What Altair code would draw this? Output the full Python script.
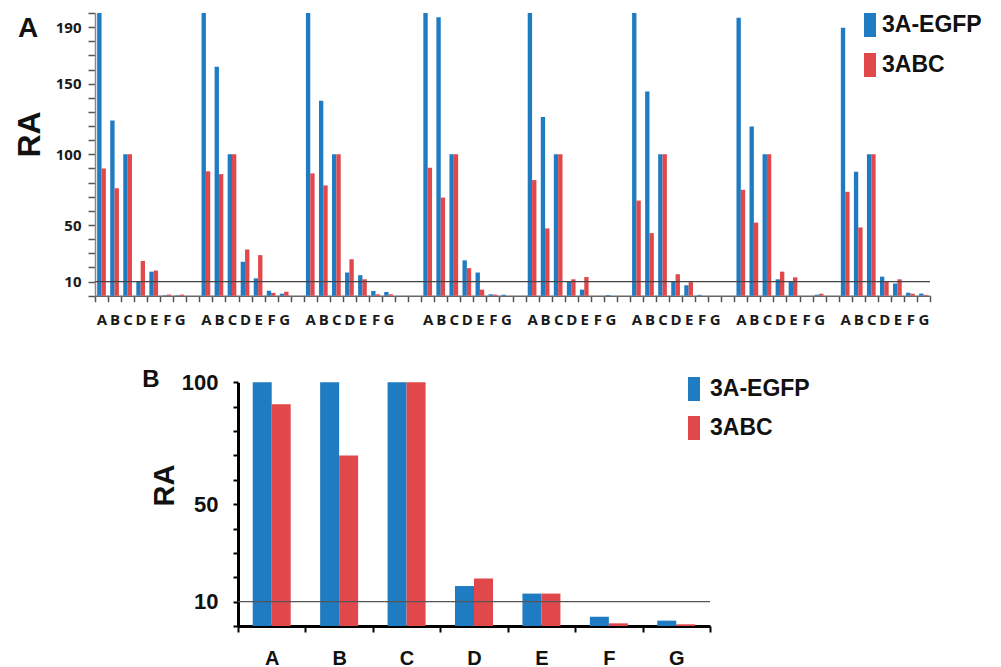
import altair as alt
import pandas as pd

# ---------------- data ----------------
categories = ["A", "B", "C", "D", "E", "F", "G"]
series = ["3A-EGFP", "3ABC"]
group_ids = ["1", "2", "3", "4", "5", "6", "7", "8"]
gaps_after = [1, 1, 2, 1, 1, 1, 1, 0]

a_egfp = [
    [200, 124, 100, 10, 17, 0.3, 0.3],
    [200, 162, 100, 24, 12.3, 3.5, 1.4],
    [200, 138, 100, 16.4, 14.5, 3.3, 2.6],
    [200, 197, 100, 25, 16.4, 1, 0.7],
    [200, 126.5, 100, 10, 4.3, 0, 0.5],
    [200, 144.5, 100, 10, 7.4, 0.6, 0],
    [196.7, 119.7, 100, 11.6, 9.8, 0, 0.7],
    [189.6, 87.7, 100, 13.5, 8.6, 2.1, 1.5],
]
a_3abc = [
    [90, 76, 100, 24.6, 17.8, 0.8, 0.8],
    [88, 86, 100, 32.7, 28.7, 2, 2.8],
    [86.5, 78, 100, 25.8, 11.6, 1, 1],
    [90.5, 69.4, 100, 19.5, 4.3, 0.8, 0],
    [81.8, 47.6, 100, 11.6, 13.2, 0, 0],
    [67.3, 44.3, 100, 15.2, 9.6, 0, 0],
    [74.9, 51.7, 100, 17, 13, 0, 1.4],
    [73.5, 48.3, 100, 9.8, 11.6, 1.4, 0.6],
]
b_egfp = [100, 100, 100, 16.4, 13.3, 3.8, 2.2]
b_3abc = [91, 70, 100, 19.5, 13.3, 1.1, 0.7]

a_y_ticks = list(range(0, 201, 10))
b_y_ticks = list(range(0, 101, 10))
ref_value = [10]
panel_labels = ["A", "B"]

# ---------------- tables ----------------
slots = []
rows_a = []
for gi, g in enumerate(group_ids):
    for ci, c in enumerate(categories):
        sid = g + c
        slots.append(sid)
        rows_a.append({"slot": sid, "series": series[0], "value": a_egfp[gi][ci]})
        rows_a.append({"slot": sid, "series": series[1], "value": a_3abc[gi][ci]})
    for k in range(gaps_after[gi]):
        slots.append("gap" + g + "_" + str(k))
df_a = pd.DataFrame(rows_a)

rows_b = []
for ci, c in enumerate(categories):
    rows_b.append({"cat": c, "series": series[0], "value": b_egfp[ci]})
    rows_b.append({"cat": c, "series": series[1], "value": b_3abc[ci]})
df_b = pd.DataFrame(rows_b)

df_ref = pd.DataFrame({"value": ref_value})

# ---------------- layout / style ----------------
W, H = 835, 613
A_BASE = 282.7
B_LEFT, B_RIGHT = 143, 615
B_TOP = 369.3
BAR_A, BAR_B = 4.35, 19
BLUE = "#1f7bc2"
RED = "#e0484b"
SANS = "Liberation Sans"
rect_path = "M-0.5,-1H0.5V1H-0.5Z"

scale_xa = alt.Scale(domain=slots, range=[0, W], paddingInner=0, paddingOuter=0)
scale_xb = alt.Scale(domain=categories, range=[B_LEFT, B_RIGHT], paddingInner=0, paddingOuter=0)
scale_ya = alt.Scale(domain=[0, 200], range=[A_BASE, 0], nice=False, zero=True)
scale_yb = alt.Scale(domain=[0, 100], range=[H, B_TOP], nice=False, zero=True)
scale_c = alt.Scale(domain=series, range=[BLUE, RED])

# ---------------- panel A ----------------
axis_ya = alt.Axis(
    orient="left", values=a_y_ticks,
    labelExpr="(datum.value == 10 || datum.value == 50 || datum.value == 100 || datum.value == 150 || datum.value == 190) ? datum.label : ''",
    grid=False, domainColor="#8a8a8a", domainWidth=1.5,
    tickColor="#555", tickWidth=1.5, tickSize=7,
    labelFont="Open Sans", labelFontSize=15, labelFontWeight="bold",
    labelColor="#1a1a1a", labelPadding=7,
    title="RA", titleFont=SANS, titleFontSize=32, titleFontWeight="bold",
    titleColor="#111", titleAngle=270, titleX=-66, titleY=121,
    titleAlign="center", titleBaseline="middle",
)
axis_xa = alt.Axis(
    orient="bottom", offset=-(H - A_BASE), tickBand="extent",
    labelExpr="(isString(datum.value) && indexof(datum.value, 'gap') != 0) ? slice(datum.value, -1) : ''",
    labelAngle=0, labelOverlap=False,
    domainColor="#666", domainWidth=1.5, tickColor="#555", tickWidth=1.5, tickSize=6,
    labelFont="Open Sans", labelFontSize=15, labelFontWeight="bold",
    labelColor="#1a1a1a", labelPadding=11, title=None,
)
legend_a = alt.Legend(
    orient="none", legendX=763, legendY=0, title=None, padding=0,
    symbolType=rect_path, symbolSize=576, symbolStrokeWidth=0, symbolOpacity=1,
    labelFont=SANS, labelFontSize=23, labelFontWeight="bold", labelColor="#111",
    labelOffset=0, rowPadding=16,
    labelExpr="datum.label == '3ABC' ? '\u2009\u2009' + datum.label : datum.label",
)

base_a = alt.Chart(df_a)
blue_a = base_a.transform_filter(alt.datum.series == series[0]).mark_bar(
    width=BAR_A, xOffset=-BAR_A / 2
).encode(
    x=alt.X("slot:N", scale=scale_xa, axis=axis_xa),
    y=alt.Y("value:Q", scale=scale_ya, axis=axis_ya),
    color=alt.Color("series:N", scale=scale_c, legend=legend_a),
)
red_a = base_a.transform_filter(alt.datum.series == series[1]).mark_bar(
    width=BAR_A, xOffset=BAR_A / 2
).encode(
    x=alt.X("slot:N", scale=scale_xa, axis=None),
    y=alt.Y("value:Q", scale=scale_ya, axis=None),
    color=alt.Color("series:N", scale=scale_c, legend=None),
)
rule_a = alt.Chart(df_ref).mark_rule(color="#444", strokeWidth=1.3).encode(
    y=alt.Y("value:Q", scale=scale_ya, axis=None), x=alt.value(0), x2=alt.value(W)
)

# ---------------- panel B ----------------
axis_yb = alt.Axis(
    orient="left", offset=-B_LEFT, values=b_y_ticks,
    labelExpr="(datum.value == 10 || datum.value == 50 || datum.value == 100) ? datum.label : ''",
    grid=False, domainColor="#000", domainWidth=3,
    tickColor="#000", tickWidth=2, tickSize=5,
    labelFont=SANS, labelFontSize=22, labelFontWeight="bold",
    labelColor="#111", labelPadding=15,
    title="RA", titleFont=SANS, titleFontSize=29, titleFontWeight="bold",
    titleColor="#111", titleAngle=270, titleX=-74, titleY=472,
    titleAlign="center", titleBaseline="middle",
)
axis_xb = alt.Axis(
    orient="bottom", tickBand="extent", labelAngle=0,
    domainColor="#000", domainWidth=3, tickColor="#000", tickWidth=2, tickSize=6,
    labelFont=SANS, labelFontSize=20, labelFontWeight="bold",
    labelColor="#111", labelPadding=16, title=None,
)
legend_b = alt.Legend(
    orient="none", legendX=587, legendY=364, title=None, padding=0,
    symbolType=rect_path, symbolSize=576, symbolStrokeWidth=0, symbolOpacity=1,
    labelFont=SANS, labelFontSize=23, labelFontWeight="bold", labelColor="#111",
    labelOffset=4, rowPadding=15,
    labelExpr="datum.label == '3ABC' ? '\u2009' + datum.label : datum.label",
)

base_b = alt.Chart(df_b)
blue_b = base_b.transform_filter(alt.datum.series == series[0]).mark_bar(
    width=BAR_B, xOffset=-BAR_B / 2
).encode(
    x=alt.X("cat:N", scale=scale_xb, axis=axis_xb),
    y=alt.Y("value:Q", scale=scale_yb, axis=axis_yb),
    color=alt.Color("series:N", scale=scale_c, legend=legend_b),
)
red_b = base_b.transform_filter(alt.datum.series == series[1]).mark_bar(
    width=BAR_B, xOffset=BAR_B / 2
).encode(
    x=alt.X("cat:N", scale=scale_xb, axis=None),
    y=alt.Y("value:Q", scale=scale_yb, axis=None),
    color=alt.Color("series:N", scale=scale_c, legend=None),
)
rule_b = alt.Chart(df_ref).mark_rule(color="#555", strokeWidth=1.3).encode(
    y=alt.Y("value:Q", scale=scale_yb, axis=None), x=alt.value(B_LEFT), x2=alt.value(B_RIGHT)
)

# ---------------- panel letters ----------------
lab_a = alt.Chart(pd.DataFrame({"t": [panel_labels[0]]})).mark_text(
    font=SANS, fontSize=28, fontWeight="bold", color="#111", align="center", baseline="middle"
).encode(text="t:N", x=alt.value(-67), y=alt.value(16))
lab_b = alt.Chart(pd.DataFrame({"t": [panel_labels[1]]})).mark_text(
    font=SANS, fontSize=24, fontWeight="bold", color="#111", align="center", baseline="middle"
).encode(text="t:N", x=alt.value(56), y=alt.value(367))

chart = (
    alt.layer(blue_a, red_a, rule_a, blue_b, red_b, rule_b, lab_a, lab_b)
    .resolve_scale(x="independent", y="independent", color="independent")
    .resolve_axis(x="independent", y="independent")
    .resolve_legend(color="independent")
    .properties(
        width=W, height=H,
        autosize=alt.AutoSizeParams(type="none"),
        padding={"left": 87, "top": 5, "right": 63, "bottom": 41},
        background="white",
    )
    .configure_view(strokeWidth=0)
)

chart.save("out.html", embed_options={"renderer": "svg", "actions": False})
